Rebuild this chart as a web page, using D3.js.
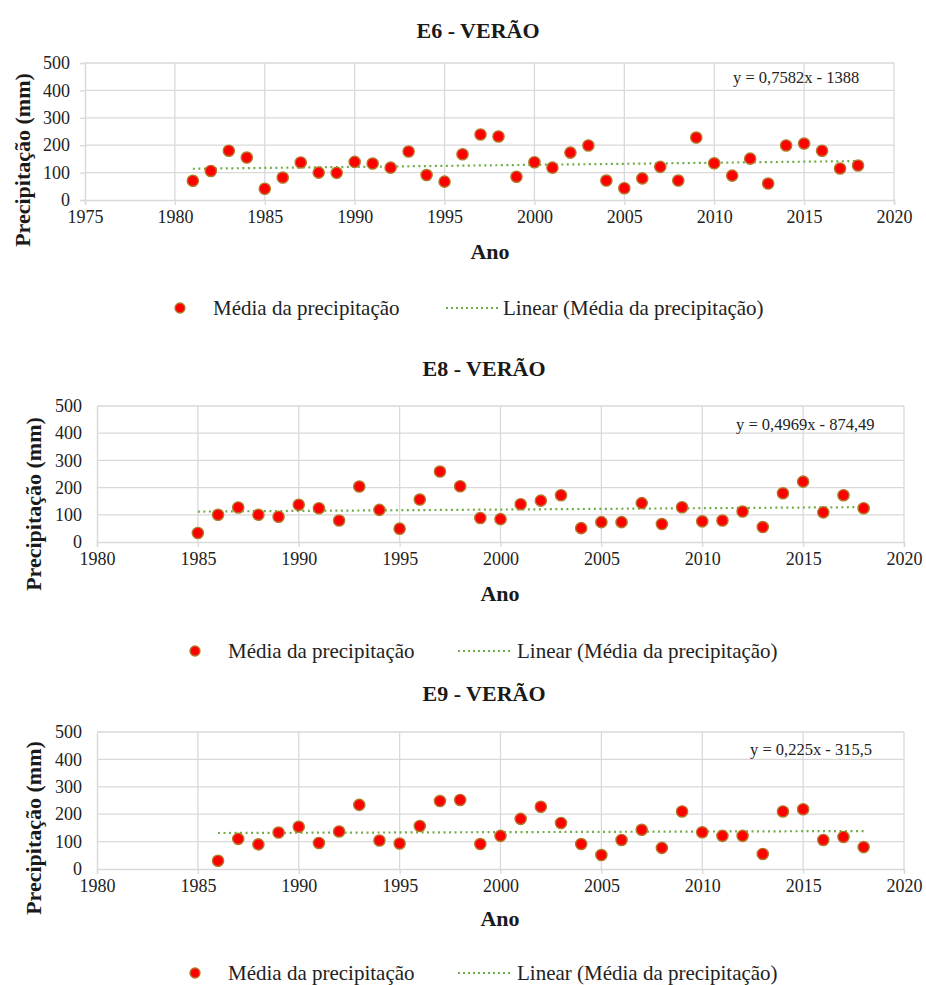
<!DOCTYPE html>
<html><head><meta charset="utf-8">
<script src="https://cdn.jsdelivr.net/npm/d3@7"></script>
<style>
body{margin:0;background:#fff} svg{display:block}
svg text{font-family:"Liberation Serif","Times New Roman",Times,"DejaVu Serif",serif !important}
</style>
</head><body>
<script>
// ---------- DATA ----------
const yearsE6 = [1981,1982,1983,1984,1985,1986,1987,1988,1989,1990,1991,1992,1993,1994,1995,1996,1997,1998,1999,2000,2001,2002,2003,2004,2005,2006,2007,2008,2009,2010,2011,2012,2013,2014,2015,2016,2017,2018];
const valuesE6 = [70,106,180,155,41,82,137,100,99,139,133,118,177,91,67,167,239,232,85,138,118,173,199,71,43,79,121,71,228,134,89,151,60,199,206,180,115,126];
const yearsE8 = [1985,1986,1987,1988,1989,1990,1991,1992,1993,1994,1995,1996,1997,1998,1999,2000,2001,2002,2003,2004,2005,2006,2007,2008,2009,2010,2011,2012,2013,2014,2015,2016,2017,2018];
const valuesE8 = [33,100,127,100,93,137,124,79,204,118,49,156,259,205,88,84,139,152,172,51,73,73,143,66,128,76,79,112,55,179,222,109,172,124];
const yearsE9 = [1986,1987,1988,1989,1990,1991,1992,1993,1994,1995,1996,1997,1998,1999,2000,2001,2002,2003,2004,2005,2006,2007,2008,2009,2010,2011,2012,2013,2014,2015,2016,2017,2018];
const valuesE9 = [30,110,90,133,154,95,137,234,104,93,157,248,252,91,121,183,227,168,91,51,106,143,77,210,134,121,121,55,210,218,106,117,80];

const titles = ["E6 - VERÃO", "E8 - VERÃO", "E9 - VERÃO"];
const trendSlopes = [0.7582, 0.4969, 0.225];
const trendIntercepts = [-1388, -874.49, -315.5];
const equationLabels = ["y = 0,7582x - 1388", "y = 0,4969x - 874,49", "y = 0,225x - 315,5"];
const xTicksE6 = [1975,1980,1985,1990,1995,2000,2005,2010,2015,2020];
const xTicksE8E9 = [1980,1985,1990,1995,2000,2005,2010,2015,2020];
const yTicks = [0,100,200,300,400,500];
const yAxisTitle = "Precipitação (mm)";
const xAxisTitle = "Ano";
const legendSeries = "Média da precipitação";
const legendTrend = "Linear (Média da precipitação)";

// ---------- LAYOUT ----------
const layouts = [
  {years: yearsE6, values: valuesE6, xTicks: xTicksE6, xDomain:[1975,2020],
   left:85, right:894, top:63, bottom:200, titleX:478, titleY:38, ylabX:22, ylabY:160,
   anoX:490, anoY:259, legY:308, legM:180, legT1:213, legL1:446, legL2:500, legT2:503, eqX:733, eqY:83, yTickMarks:true},
  {years: yearsE8, values: valuesE8, xTicks: xTicksE8E9, xDomain:[1980,2020],
   left:97, right:904, top:406, bottom:542, titleX:484, titleY:376, ylabX:33, ylabY:504,
   anoX:500, anoY:601, legY:651, legM:195, legT1:228, legL1:458, legL2:512, legT2:517, eqX:736, eqY:430, yTickMarks:false},
  {years: yearsE9, values: valuesE9, xTicks: xTicksE8E9, xDomain:[1980,2020],
   left:97, right:904, top:732, bottom:869, titleX:484, titleY:701, ylabX:33, ylabY:828,
   anoX:500, anoY:926, legY:973, legM:195, legT1:228, legL1:458, legL2:512, legT2:517, eqX:750, eqY:755, yTickMarks:false}
];

const W = 926, H = 985;
const serif = "Liberation Serif";
const gridColor = "#d9d9d9";
const markerFill = "#ff0000";
const markerStroke = "#b07a2a";
const trendColor = "#70ad47";

const svg = d3.select("body").append("svg").attr("width", W).attr("height", H)
  .attr("font-family", serif);

layouts.forEach((L, i) => {
  const g = svg.append("g");
  const x = d3.scaleLinear().domain(L.xDomain).range([L.left, L.right]);
  const y = d3.scaleLinear().domain([0, 500]).range([L.bottom, L.top]);

  g.append("text").attr("x", L.titleX).attr("y", L.titleY).attr("text-anchor", "middle")
    .attr("font-weight", "bold").attr("font-size", 22).attr("fill", "#1a1a1a").text(titles[i]);

  g.append("g").selectAll("line").data(yTicks.filter(d => d > 0)).join("line")
    .attr("x1", L.left).attr("x2", L.right).attr("y1", d => y(d)).attr("y2", d => y(d))
    .attr("stroke", gridColor).attr("stroke-width", 1.3);
  g.append("g").selectAll("line").data(L.xTicks.filter(d => d > L.xDomain[0])).join("line")
    .attr("x1", d => x(d)).attr("x2", d => x(d)).attr("y1", L.top).attr("y2", L.bottom)
    .attr("stroke", gridColor).attr("stroke-width", 1.3);

  const xAxis = d3.axisBottom(x).tickValues(L.xTicks).tickFormat(d3.format("d"))
    .tickSize(5).tickPadding(5);
  const gx = g.append("g").attr("transform", `translate(0,${L.bottom})`).call(xAxis);
  gx.attr("font-family", serif);
  gx.select(".domain").attr("stroke", gridColor).attr("stroke-width", 1.5);
  gx.selectAll(".tick line").attr("stroke", gridColor).attr("stroke-width", 1.3);
  gx.selectAll(".tick text").attr("font-size", 18).attr("fill", "#222");

  const yAxis = d3.axisLeft(y).tickValues(yTicks).tickSize(L.yTickMarks ? 5 : 0).tickPadding(L.yTickMarks ? 10 : 15);
  const gy = g.append("g").attr("transform", `translate(${L.left},0)`).call(yAxis);
  gy.attr("font-family", serif);
  gy.select(".domain").attr("stroke", gridColor).attr("stroke-width", 1.5);
  gy.selectAll(".tick line").attr("stroke", gridColor).attr("stroke-width", 1.3);
  gy.selectAll(".tick text").attr("font-size", 18).attr("fill", "#222");

  g.append("text").attr("transform", `translate(${L.ylabX},${L.ylabY}) rotate(-90)`)
    .attr("text-anchor", "middle").attr("dominant-baseline", "central")
    .attr("font-weight", "bold").attr("font-size", 22).attr("fill", "#1a1a1a").text(yAxisTitle);
  g.append("text").attr("x", L.anoX).attr("y", L.anoY).attr("text-anchor", "middle")
    .attr("font-weight", "bold").attr("font-size", 22).attr("fill", "#1a1a1a").text(xAxisTitle);

  const y0 = L.years[0], y1 = L.years[L.years.length - 1];
  const trend = [y0, y1].map(t => [t, trendSlopes[i] * t + trendIntercepts[i]]);
  g.append("path").datum(trend)
    .attr("d", d3.line().x(d => x(d[0])).y(d => y(d[1])))
    .attr("stroke", trendColor).attr("stroke-width", 2.2).attr("stroke-dasharray", "2,3.5").attr("fill", "none");

  g.append("g").selectAll("circle").data(L.years.map((yr, k) => [yr, L.values[k]])).join("circle")
    .attr("cx", d => x(d[0])).attr("cy", d => y(d[1])).attr("r", 5.6)
    .attr("fill", markerFill).attr("stroke", markerStroke).attr("stroke-width", 1.4);

  g.append("text").attr("x", L.eqX).attr("y", L.eqY).attr("font-size", 16.5).attr("fill", "#222")
    .text(equationLabels[i]);

  g.append("circle").attr("cx", L.legM).attr("cy", L.legY).attr("r", 5)
    .attr("fill", markerFill).attr("stroke", markerStroke).attr("stroke-width", 1.3);
  g.append("text").attr("x", L.legT1).attr("y", L.legY).attr("dominant-baseline", "central")
    .attr("font-size", 21).attr("fill", "#222").text(legendSeries);
  g.append("line").attr("x1", L.legL1).attr("x2", L.legL2).attr("y1", L.legY).attr("y2", L.legY)
    .attr("stroke", trendColor).attr("stroke-width", 2).attr("stroke-dasharray", "2,3");
  g.append("text").attr("x", L.legT2).attr("y", L.legY).attr("dominant-baseline", "central")
    .attr("font-size", 21).attr("fill", "#222").text(legendTrend);
});
</script>
</body></html>
